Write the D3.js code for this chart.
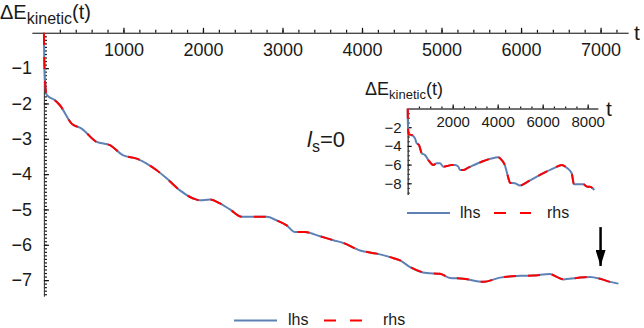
<!DOCTYPE html>
<html lang="en">
<meta charset="utf-8"/>
<head>
<style>
  body { margin: 0; background: #FFFFFF; }
  svg text { font-family: "Liberation Sans", Arial, sans-serif; fill: #1a1a1a; }
  .axis path { stroke: #444; }
  .axis line { stroke: #111; stroke-width: 1.2; }
</style>
</head>
<body>
<svg id="container" width="644" height="328"></svg>

<script src="https://d3js.org/d3.v7.min.js"></script>
<script>
// main curve, t and value
let mainT = [0,5,15,35,138,201,348,474,663,830,998,1166,1292,1418,1543,1711,1878,1962,2088,2214,2340,2487,2633,2801,2927,3053,3157,3283,3472,3639,3765,3975,4185,4352,4478,4604,4814,4981,5107,5274,5526,5736,5987,6155,6365,6449,6532,6700,6868,6994,7120,7225]
let mainV = [0,-0.8,-1.4,-1.76,-1.91,-2.05,-2.57,-2.71,-3.09,-3.18,-3.47,-3.56,-3.70,-3.89,-4.12,-4.46,-4.69,-4.74,-4.72,-4.83,-5.0,-5.21,-5.21,-5.21,-5.31,-5.45,-5.64,-5.64,-5.76,-5.87,-5.95,-6.16,-6.25,-6.35,-6.44,-6.63,-6.80,-6.82,-6.94,-6.96,-7.05,-6.93,-6.88,-6.87,-6.83,-6.91,-6.98,-6.94,-6.91,-6.96,-7.05,-7.10]

// inset curve
let insetT = [0,5,20,40,178,324,400,502,622,769,916,1138,1289,1436,1582,1804,1956,2102,2249,2324,2471,2693,3289,3880,4027,4178,4324,4400,4471,4547,4769,4991,5289,5880,6547,6844,7067,7289,7391,7582,7804,7982,8102,8293]
let insetV = [0,-1.2,-2.3,-2.76,-2.83,-3.19,-3.72,-3.9,-4.79,-4.97,-5.51,-6.04,-5.86,-5.86,-6.22,-6.12,-6.04,-6.04,-6.22,-6.58,-6.58,-6.33,-5.69,-5.26,-5.22,-5.51,-6.1,-6.76,-7.4,-7.94,-8.0,-8.25,-7.9,-7.11,-6.33,-6.04,-6.33,-6.93,-8.1,-8.1,-8.1,-8.36,-8.36,-8.72]

let mainXTicks = [1000,2000,3000,4000,5000,6000,7000]
let mainYTicks = [-1,-2,-3,-4,-5,-6,-7]
let insetXTicks = [2000,4000,6000,8000]
let insetYTicks = [-2,-4,-6,-8]
let seriesNames = ["lhs","rhs"]

let blue = "#5E81B5"
let red = "#FF0000"

let svg = d3.select("svg")

let fmt = d => d < 0 ? "\u2212" + Math.abs(d) : "" + d

function drawPanel(o){
  let g = svg.append("g")
  let x = d3.scaleLinear().domain(o.xDom).range(o.xRange)
  let y = d3.scaleLinear().domain(o.yDom).range(o.yRange)
  let x0 = x(0), y0 = y(0)

  // minor ticks
  g.append("g").attr("class","axis").attr("transform","translate(0,"+y0+")")
    .call(d3.axisBottom(x).tickValues(d3.range(o.xMinor, o.xDom[1], o.xMinor)).tickSize(-o.minorLen).tickSizeOuter(0).tickFormat(""))
  g.append("g").attr("class","axis").attr("transform","translate("+x0+",0)")
    .call(d3.axisLeft(y).tickValues(d3.range(-o.yMinor, o.yDom[1], -o.yMinor)).tickSize(-o.minorLen).tickSizeOuter(0).tickFormat(""))

  // major ticks + labels
  g.append("g").attr("class","axis").attr("transform","translate(0,"+y0+")")
    .call(d3.axisBottom(x).tickValues(o.xTicks).tickSize(-o.majorLen).tickSizeOuter(0).tickPadding(o.xPad).tickFormat(fmt))
    .selectAll("text").style("font-size", o.font+"px").attr("fill","#1a1a1a")
  g.append("g").attr("class","axis").attr("transform","translate("+x0+",0)")
    .call(d3.axisLeft(y).tickValues(o.yTicks).tickSize(-o.majorLen).tickSizeOuter(0).tickPadding(o.yPad).tickFormat(fmt))
    .selectAll("text").style("font-size", o.font+"px").attr("fill","#1a1a1a")

  let pts = o.t.map((t,i) => [t, o.v[i]])
  let line = d3.line().x(d => x(d[0])).y(d => y(d[1])).curve(d3.curveMonotoneX)
  g.append("path").attr("d", line(pts)).attr("fill","none")
    .attr("stroke", blue).attr("stroke-width", o.lw)
  g.append("path").attr("d", line(pts)).attr("fill","none")
    .attr("stroke", red).attr("stroke-width", o.lw).attr("stroke-dasharray", o.dash)

  // axis titles
  let tt = g.append("text").attr("x", o.titleX).attr("y", o.titleY).style("font-size", o.titleFont+"px")
  tt.append("tspan").text("\u0394E")
  tt.append("tspan").text("kinetic").attr("dy", o.subShift).style("font-size", o.subFont+"px")
  tt.append("tspan").text("(t)").attr("dy", -o.subShift)
  g.append("text").attr("x", o.tPos[0]).attr("y", o.tPos[1]).text("t").style("font-size", o.tFont+"px")

  // legend
  let L = o.leg
  let lg = g.append("g")
  lg.append("line").attr("x1", L.x).attr("x2", L.x+43).attr("y1", L.y).attr("y2", L.y)
    .attr("stroke", blue).attr("stroke-width", 2)
  lg.append("text").attr("x", L.x+L.lhs).attr("y", L.ty).text(seriesNames[0]).style("font-size", L.font+"px")
  lg.append("line").attr("x1", L.x+L.red[0]).attr("x2", L.x+L.red[1]).attr("y1", L.y).attr("y2", L.y)
    .attr("stroke", red).attr("stroke-width", 2).attr("stroke-dasharray","12,14")
  lg.append("text").attr("x", L.x+L.rhs).attr("y", L.ty).text(seriesNames[1]).style("font-size", L.font+"px")
  return {x, y}
}

let main = drawPanel({
  xDom: [-150, 7345], xRange: [32, 628],
  yDom: [0, -7.45], yRange: [32.8, 296],
  xMinor: 200, yMinor: 0.1, minorLen: 3, majorLen: 5,
  xTicks: mainXTicks, yTicks: mainYTicks, xPad: 10, yPad: 12, font: 18,
  t: mainT, v: mainV, lw: 2, dash: "12,12",
  titleX: 0, titleY: 19, titleFont: 20, subFont: 16, subShift: 5,
  tPos: [634, 40], tFont: 21,
  leg: {x: 234, y: 320.5, ty: 324.5, lhs: 54, red: [90, 129], rhs: 149, font: 16}
})

let inset = drawPanel({
  xDom: [0, 8450], xRange: [407.7, 597.8],
  yDom: [0, -9.2], yRange: [108.5, 194.5],
  xMinor: 500, yMinor: 0.5, minorLen: 2, majorLen: 4,
  xTicks: insetXTicks, yTicks: insetYTicks, xPad: 8, yPad: 6, font: 15,
  t: insetT, v: insetV, lw: 2, dash: "10,10",
  titleX: 365, titleY: 95, titleFont: 18, subFont: 13, subShift: 4,
  tPos: [606, 116], tFont: 21,
  leg: {x: 407, y: 213, ty: 218.3, lhs: 53, red: [87, 124], rhs: 140, font: 16}
})

// l_s = 0 annotation
let ann = svg.append("text").attr("x", 307).attr("y", 147).style("font-size","22px")
ann.append("tspan").text("l").style("font-style","italic")
ann.append("tspan").text("s").attr("dy", 5).style("font-size","16px")
ann.append("tspan").text("=0").attr("dy", -5)

// arrow near the end of the main curve
svg.append("defs").append("marker").attr("id","head")
  .attr("viewBox","0 0 16 10").attr("refX", 16).attr("refY", 5)
  .attr("markerWidth", 6.4).attr("markerHeight", 4).attr("orient","auto")
  .append("path").attr("d","M0,0 L16,5 L0,10 z").attr("fill","#000")
svg.append("line").attr("x1", main.x(7000)).attr("x2", main.x(7000))
  .attr("y1", main.y(-5.5)).attr("y2", main.y(-6.6))
  .attr("stroke","#000").attr("stroke-width", 2.5).attr("marker-end","url(#head)")
</script>
</body>
</html>
